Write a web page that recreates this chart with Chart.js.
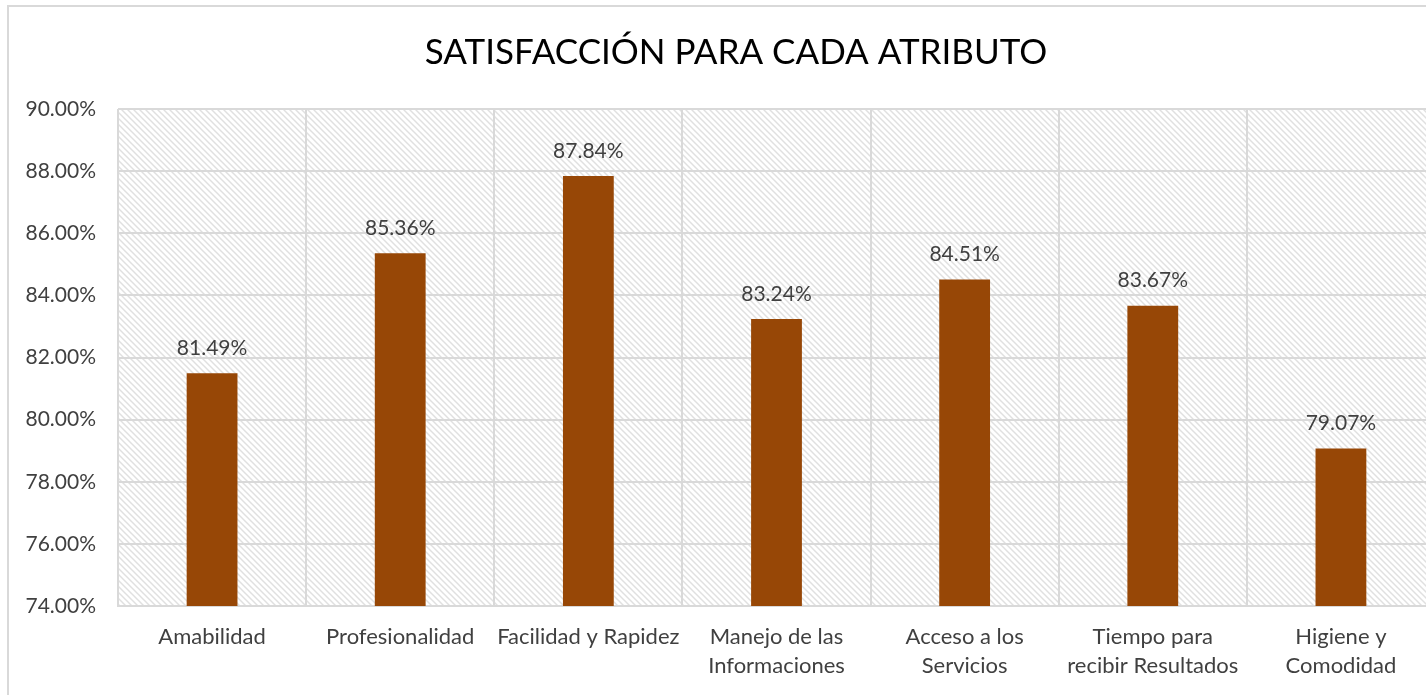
<!DOCTYPE html>
<html>
<head>
<meta charset="utf-8">
<script src="https://cdn.jsdelivr.net/npm/chart.js@4"></script>
<style>
  html, body { margin: 0; padding: 0; background: #fff; overflow: hidden; }
  #marco { position: absolute; left: 7px; top: 5px; width: 1480px; height: 720px; border: 2px solid #d9d9d9; }
  #wrap { position: absolute; left: 0; top: 0; width: 1472px; height: 700px; }
</style>
</head>
<body>
<div id="marco"></div>
<div id="wrap"><canvas id="grafico"></canvas></div>
<script>
// datos del grafico
const titulo = 'SATISFACCIÓN PARA CADA ATRIBUTO'
const atributos = [
  ['Amabilidad'],
  ['Profesionalidad'],
  ['Facilidad y Rapidez'],
  ['Manejo de las', 'Informaciones'],
  ['Acceso a los', 'Servicios'],
  ['Tiempo para', 'recibir Resultados'],
  ['Higiene y', 'Comodidad']
]
const satisfaccion = [81.49, 85.36, 87.84, 83.24, 84.51, 83.67, 79.07]
const ejeMin = 74
const ejeMax = 90
const ejePaso = 2

const fuente = 'Lato, "Open Sans", sans-serif'
const grisTexto = '#404040'
const grisLinea = '#d9d9d9'

// trama diagonal del fondo
function crearTrama() {
  const c = document.createElement('canvas')
  c.width = 6
  c.height = 6
  const ctx = c.getContext('2d')
  ctx.fillStyle = '#ffffff'
  ctx.fillRect(0, 0, 6, 6)
  ctx.strokeStyle = '#e0e0e0'
  ctx.lineWidth = 1.5
  ctx.beginPath()
  ctx.moveTo(-1, -1); ctx.lineTo(7, 7)
  ctx.moveTo(-4, 2); ctx.lineTo(2, 8)
  ctx.moveTo(2, -4); ctx.lineTo(8, 2)
  ctx.stroke()
  return c
}

const fondoTrama = {
  id: 'fondoTrama',
  beforeDraw(chart) {
    const a = chart.chartArea
    const ctx = chart.ctx
    ctx.save()
    ctx.fillStyle = ctx.createPattern(crearTrama(), 'repeat')
    ctx.fillRect(a.left, a.top, a.right - a.left, a.bottom - a.top)
    ctx.restore()
  }
}

// titulo centrado en el marco completo (no en el area del grafico)
const tituloMarco = {
  id: 'tituloMarco',
  afterDraw(chart) {
    const ctx = chart.ctx
    ctx.save()
    ctx.font = '35px ' + fuente
    ctx.fillStyle = '#000000'
    ctx.textAlign = 'center'
    ctx.textBaseline = 'middle'
    ctx.fillText(titulo, chart.width / 2, 53)
    ctx.restore()
  }
}

const etiquetas = {
  id: 'etiquetas',
  afterDatasetsDraw(chart) {
    const ctx = chart.ctx
    const meta = chart.getDatasetMeta(0)
    ctx.save()
    ctx.font = '21px ' + fuente
    ctx.fillStyle = grisTexto
    ctx.textAlign = 'center'
    ctx.textBaseline = 'middle'
    meta.data.forEach((bar, i) => {
      ctx.fillText(satisfaccion[i].toFixed(2) + '%', bar.x, bar.y - 25)
    })
    ctx.restore()
  }
}

new Chart(document.getElementById('grafico'), {
  type: 'bar',
  data: {
    labels: atributos,
    datasets: [{
      data: satisfaccion,
      backgroundColor: '#974706',
      barPercentage: 0.27,
      categoryPercentage: 1
    }]
  },
  options: {
    responsive: true,
    maintainAspectRatio: false,
    animation: false,
    layout: { padding: { left: 0, right: 37, top: 109, bottom: 0 } },
    plugins: {
      legend: { display: false },
      tooltip: { enabled: false },
      title: { display: false }
    },
    scales: {
      x: {
        grid: { color: grisLinea, lineWidth: 2, drawTicks: false, offset: true },
        border: { color: grisLinea, width: 2 },
        ticks: {
          color: grisTexto,
          font: { family: fuente, size: 22, lineHeight: 1.32 },
          padding: 16,
          maxRotation: 0,
          autoSkip: false
        },
        afterFit(scale) { scale.height = 94 }
      },
      y: {
        min: ejeMin,
        max: ejeMax,
        grid: { color: grisLinea, lineWidth: 2, drawTicks: false },
        border: { display: false },
        ticks: {
          stepSize: ejePaso,
          color: grisTexto,
          font: { family: fuente, size: 21 },
          padding: 22,
          callback: v => v.toFixed(2) + '%'
        },
        afterFit(scale) { scale.width = 118 }
      }
    }
  },
  plugins: [fondoTrama, etiquetas, tituloMarco]
})
</script>
</body>
</html>
